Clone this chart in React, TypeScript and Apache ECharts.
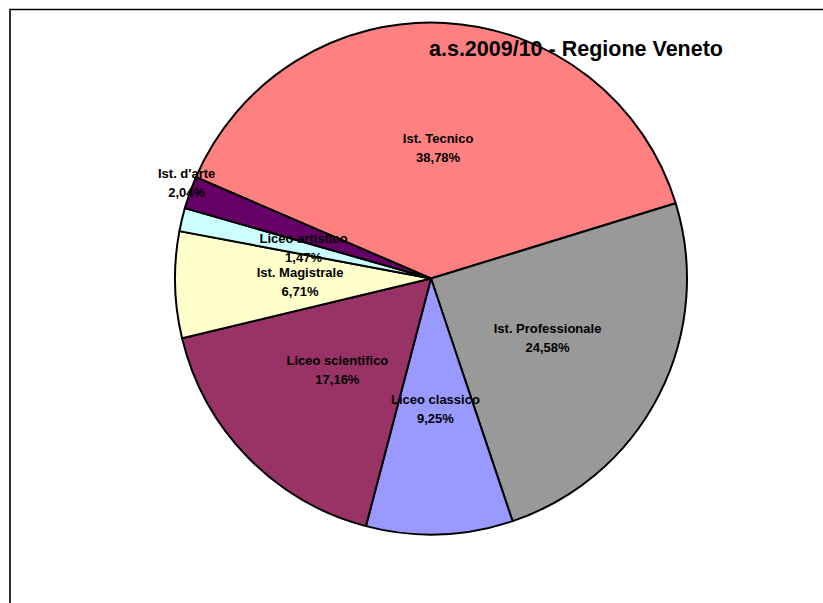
import React, { useEffect, useRef } from "react";
import * as echarts from "echarts";

const titleText = "a.s.2009/10 - Regione Veneto";
const categories = [
  "Ist. Tecnico",
  "Ist. Professionale",
  "Liceo classico",
  "Liceo scientifico",
  "Ist. Magistrale",
  "Liceo artistico",
  "Ist. d'arte",
];
const percentages = [38.78, 24.58, 9.25, 17.16, 6.71, 1.47, 2.04];
const colors = ["#FF8080", "#999999", "#9999FF", "#993366", "#FFFFCC", "#CCFFFF", "#660066"];

export default function App() {
  const ref = useRef<HTMLDivElement>(null);
  useEffect(() => {
    if (!ref.current) return;
    const chart = echarts.init(ref.current, undefined, { renderer: "svg" });
    const data = categories.map((name, i) => ({
      name,
      value: percentages[i],
      itemStyle: { color: colors[i] },
    }));
    chart.setOption({
      animation: false,
      backgroundColor: "#ffffff",
      title: {
        text: titleText,
        left: 424,
        top: 33,
        textStyle: {
          fontFamily: "Liberation Sans",
          fontWeight: "bold",
          fontSize: 21.5,
          color: "#000000",
        },
      },
      graphic: [
        { type: "line", shape: { x1: 9, y1: 9.5, x2: 823, y2: 9.5 }, style: { stroke: "#000", lineWidth: 1.5 } },
        { type: "line", shape: { x1: 10, y1: 9, x2: 10, y2: 603 }, style: { stroke: "#333", lineWidth: 2 } },
      ],
      series: [
        {
          type: "pie",
          center: [431, 278.5],
          radius: 256,
          startAngle: 156.7,
          clockwise: true,
          avoidLabelOverlap: false,
          itemStyle: { borderColor: "#000", borderWidth: 2 },
          label: {
            show: true,
            position: "inside",
            fontFamily: "Liberation Sans",
            fontWeight: "bold",
            fontSize: 13,
            lineHeight: 19,
            color: "#000",
            formatter: (p: any) => p.name + "\n" + Number(p.value).toFixed(2).replace(".", ",") + "%",
          },
          labelLine: { show: false },
          labelLayout: (p: any) => (p.dataIndex === 6 ? { dx: -121, dy: -51 } : {}),
          emphasis: { disabled: true },
          data,
        },
      ],
    });
    return () => chart.dispose();
  }, []);
  return (
    <div
      ref={ref}
      style={{ position: "absolute", left: 0, top: 0, width: 823, height: 603 }}
    />
  );
}
